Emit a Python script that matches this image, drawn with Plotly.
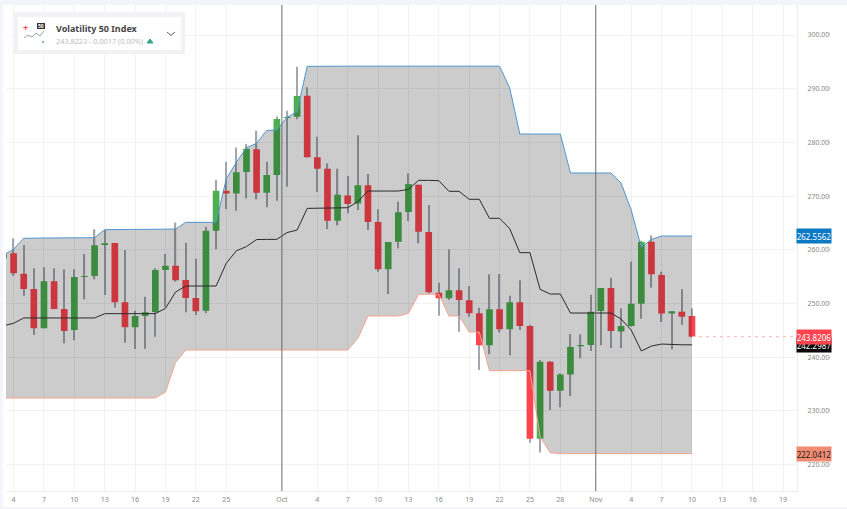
import plotly.graph_objects as go
import pandas as pd

start = "2023-09-03"
opens = [258.4,259.34,255.55,252.69,245.37,254.12,248.97,245.06,254.93,255.11,260.89,261.26,250.21,245.55,247.66,248.41,256.23,257.04,254.37,251.02,248.66,263.55,271.0,270.5,274.48,278.7,270.63,273.92,284.54,284.78,288.7,277.21,275.1,265.41,270.13,268.64,272.0,265.17,256.36,261.51,267.04,272.13,263.31,252.01,250.95,252.44,250.58,248.16,242.22,248.91,245.18,250.21,245.8,224.81,239.15,233.75,236.79,242.01,242.26,248.59,252.87,244.8,245.8,249.96,261.5,255.3,248.15,248.46,247.66]
closes = [259.3,255.61,252.69,245.37,254.12,248.97,244.87,254.93,255.11,260.83,261.2,250.21,245.55,247.66,248.35,256.23,257.04,254.31,251.02,248.53,263.56,271.0,270.5,274.42,278.82,270.63,273.92,284.35,284.72,288.63,277.21,275.1,265.41,270.26,268.52,272.0,265.16,256.36,261.45,266.97,272.25,263.37,252.07,250.95,252.44,250.64,248.16,242.22,248.91,245.18,250.21,245.8,224.81,239.15,233.75,236.79,241.88,242.26,248.47,252.87,244.86,245.8,249.96,261.5,255.42,248.15,248.53,247.53,243.82]
highs = [259.8,262.13,260.89,256.54,256.73,256.54,256.36,256.36,259.21,263.81,263.68,261.32,259.96,248.66,251.26,256.54,259.21,265.05,261.32,258.34,264.3,272.99,276.4,279.07,279.69,282.18,276.4,284.8,285.9,294.1,290.25,281.06,276.09,275.1,273.73,281.31,274.1,267.53,261.45,268.96,274.24,272.13,268.34,253.87,260.08,256.54,253.25,249.22,255.43,255.49,251.45,254.31,246.0,239.46,239.3,236.98,244.3,244.24,251.63,252.87,254.8,249.09,257.78,261.7,262.68,255.9,248.53,252.63,249.09]
lows = [258.0,255.11,251.45,244.19,245.37,248.9,242.57,243.13,250.77,254.49,251.57,249.22,242.7,241.52,241.58,243.81,249.4,254.06,248.35,247.85,248.16,260.08,267.59,267.28,269.57,269.39,267.9,269.14,271.75,284.29,277.21,270.75,263.86,264.54,266.78,267.4,263.67,255.92,251.76,260.27,265.36,261.2,251.89,247.73,250.64,244.75,247.54,237.6,240.52,244.6,240.34,245.06,224.06,222.26,230.15,230.65,232.76,239.77,241.14,242.2,241.7,241.7,245.67,247.16,252.94,246.54,241.45,246.04,243.69]
upper = [259.03,260.08,262.13,262.2,262.2,262.2,262.2,262.2,262.2,262.25,263.74,263.8,263.8,263.8,263.8,263.8,263.85,263.87,265.11,265.11,265.11,265.11,273.17,276.28,279.01,279.82,282.24,282.3,284.66,285.7,294.16,294.2,294.2,294.2,294.2,294.2,294.2,294.2,294.2,294.2,294.2,294.2,294.2,294.2,294.2,294.2,294.2,294.2,294.2,294.2,290.13,281.56,281.56,281.56,281.56,281.56,274.3,274.3,274.3,274.3,274.3,272.44,267.4,260.45,261.94,262.56,262.56,262.56,262.56]
middle = [245.86,246.3,247.3,247.3,247.3,247.3,247.3,247.3,247.3,247.3,248.1,248.1,248.1,248.1,248.1,248.1,249.09,252.13,253.25,253.25,253.25,253.25,257.47,259.8,260.6,261.9,261.94,261.94,263.2,263.67,267.71,267.75,267.8,267.8,267.83,268.95,270.94,270.94,270.94,270.94,271.25,272.93,272.93,272.87,270.89,270.89,269.4,269.4,265.86,265.86,263.93,259.46,259.46,252.63,251.76,251.76,248.22,248.22,248.22,248.22,248.22,247.1,245.05,241.14,242.07,242.44,242.3,242.3,242.3]
lower = [232.39,232.39,232.39,232.39,232.39,232.39,232.39,232.39,232.39,232.39,232.39,232.39,232.39,232.39,232.39,232.39,233.5,239.0,241.33,241.33,241.33,241.33,241.33,241.33,241.33,241.33,241.33,241.33,241.33,241.33,241.33,241.33,241.33,241.33,241.33,243.5,247.67,247.67,247.67,247.67,248.16,251.7,251.7,251.7,247.67,247.67,244.68,244.68,237.48,237.48,237.48,237.48,237.48,225.18,222.2,222.04,222.04,222.04,222.04,222.04,222.04,222.04,222.04,222.04,222.04,222.04,222.04,222.04,222.04]

y_ticks = [300, 290, 280, 270, 260, 250, 240, 230, 220]
y_tick_labels = ["300.000","290.000","280.000","270.000","260.000","250.000","240.000","230.000","220.000"]
x_tick_dates = ["2023-09-04","2023-09-07","2023-09-10","2023-09-13","2023-09-16","2023-09-19","2023-09-22","2023-09-25","2023-09-30 12:00","2023-10-04","2023-10-07","2023-10-10","2023-10-13","2023-10-16","2023-10-19","2023-10-22","2023-10-25","2023-10-28","2023-10-31 12:00","2023-11-04","2023-11-07","2023-11-10","2023-11-13","2023-11-16","2023-11-19"]
x_tick_labels = ["4","7","10","13","16","19","22","25","Oct","4","7","10","13","16","19","22","25","28","Nov","4","7","10","13","16","19"]
month_lines = ["2023-09-30 12:00", "2023-10-31 12:00"]
last_price, last_upper, last_middle, last_lower = 243.8206, 262.5562, 242.2987, 222.0412

dates = pd.date_range(start, periods=len(opens), freq="D")
W, H = 847, 509
L, R, T, B = 6, 797, 5, 491
FONT = "Noto Sans"
RED, GREEN = "#ff444f", "#4caf50"

def px(x):
    return (x - L) / (R - L)

def py(y):
    return (B - y) / (B - T)

fig = go.Figure()
fig.add_trace(go.Bar(x=dates, base=lows, y=[h - l for h, l in zip(highs, lows)], width=11000000,
                     marker=dict(color="#a3a6ae", line=dict(width=0)), showlegend=False, hoverinfo="skip"))
fig.add_trace(go.Candlestick(x=dates, open=opens, high=highs, low=lows, close=closes, showlegend=False,
                             increasing=dict(fillcolor=GREEN, line=dict(color=GREEN, width=0)),
                             decreasing=dict(fillcolor=RED, line=dict(color=RED, width=0))))
fig.add_trace(go.Scatter(x=dates, y=lower, mode="lines", line=dict(color="#f4a48e", width=1), showlegend=False))
fig.add_trace(go.Scatter(x=dates, y=upper, mode="lines", line=dict(color="#4f96cf", width=1), showlegend=False,
                         fill="tonexty", fillcolor="rgba(0,0,0,0.2)"))
fig.add_trace(go.Scatter(x=dates, y=middle, mode="lines", line=dict(color="#2b2b2b", width=1), showlegend=False))
fig.add_trace(go.Scatter(x=[dates[-1], "2023-11-20 09:00"], y=[last_price, last_price], mode="lines",
                         line=dict(color="#ffb3b7", width=1, dash="3px,4px"), showlegend=False))

def rect(x0, y0, x1, y1, color, layer="above", line=None):
    return dict(type="rect", xref="paper", yref="paper", x0=px(x0), x1=px(x1), y0=py(y0), y1=py(y1),
                fillcolor=color, line=line or dict(width=0), layer=layer)

def path(points, color, width=1, fill=None):
    d = "M " + " L ".join(f"{px(a):.5f},{py(b):.5f}" for a, b in points)
    return dict(type="path", xref="paper", yref="paper", path=d, line=dict(color=color, width=width),
                fillcolor=fill or "rgba(0,0,0,0)", layer="above")

shapes = [
    rect(0, 0, W, 5, "#f3f5fa", "below"),
    rect(0, 0, 3, H, "#f3f5fa", "below"),
    rect(0, 507, W, H, "#f3f5fa", "below"),
    rect(830, 5, W, 507, "#ffffff"),
]
for m in month_lines:
    shapes.append(dict(type="line", xref="x", yref="paper", x0=m, x1=m, y0=0, y1=1,
                       line=dict(color="#6a6c75", width=1), layer="above"))
shapes += [
    rect(14, 12, 185, 54, "#f2f2f4"),
    rect(18, 17, 181, 50, "#ffffff"),
    path([(24, 38), (28, 35), (32, 37), (36, 33), (40, 36), (44, 31)], "#8fa5ad", 1),
    rect(37, 23, 45, 29, "#333333"),
    path([(167, 32), (171, 35.5), (175, 32)], "#666666", 1),
    path([(147, 43), (153, 43), (150, 39), (147, 43)], "#2fa58c", 1, "#2fa58c"),
    path([(43, 41), (43, 43)], "#8ab8b8", 2),
    path([(42, 42), (44, 42)], "#8ab8b8", 2),
]

def text(x, y, s, size, color, bold=False, anchor="left"):
    return dict(xref="paper", yref="paper", x=px(x), y=py(y), text=f"<b>{s}</b>" if bold else s, showarrow=False,
                xanchor=anchor, yanchor="middle", font=dict(family=FONT, size=size, color=color))

def badge(val, s, bg, fg):
    return dict(xref="paper", yref="y", x=px(796), y=val, text=s, showarrow=False, xanchor="left", yanchor="middle",
                width=34, height=14, bgcolor=bg, borderpad=0, align="center",
                font=dict(family=FONT, size=8, color=fg))

annotations = [
    text(54, 28.5, "Volatility 50 Index", 9, "#444444", True),
    text(54, 40.5, "243.8223 - 0.0017 (0.00%)", 7.3, "#bcbcbc"),
    text(25.5, 27, "+", 9, "#ff444f", True, "center"),
    text(41, 26, "50", 5, "#ffffff", True, "center"),
    badge(last_upper, "262.5562", "#0a78c2", "#ffffff"),
    badge(last_middle, "242.2987", "#000000", "#ffffff"),
    badge(last_price, "243.8206", RED, "#ffffff"),
    badge(last_lower, "222.0412", "#f38b72", "#222222"),
]

fig.update_layout(
    width=W, height=H, autosize=False, barmode="overlay", boxgap=0.34, boxgroupgap=0,
    margin=dict(l=L, r=W - R, t=T, b=H - B, pad=0),
    paper_bgcolor="#ffffff", plot_bgcolor="#ffffff", showlegend=False, shapes=shapes, annotations=annotations,
    font=dict(family=FONT),
    xaxis=dict(type="date", range=["2023-09-03 06:00", "2023-11-20 09:00"], rangeslider=dict(visible=False),
               tickmode="array", tickvals=x_tick_dates, ticktext=x_tick_labels,
               tickfont=dict(family=FONT, size=7, color="#888888"), ticks="outside", ticklen=2,
               tickcolor="rgba(0,0,0,0)", showgrid=True, gridcolor="#f2f2f5", gridwidth=1, zeroline=False,
               showline=True, linecolor="#ececf0", linewidth=1),
    yaxis=dict(side="right", range=[215.07, 305.59], tickmode="array", tickvals=y_ticks, ticktext=y_tick_labels,
               tickfont=dict(family=FONT, size=7, color="#888888"), ticks="outside", ticklen=8,
               tickcolor="rgba(0,0,0,0)", showgrid=True, gridcolor="#f2f2f5", gridwidth=1, zeroline=False,
               showline=True, linecolor="#ececf0", linewidth=1),
)
fig.write_html("out.html", config=dict(displayModeBar=False), post_script="document.body.style.margin='0';")
